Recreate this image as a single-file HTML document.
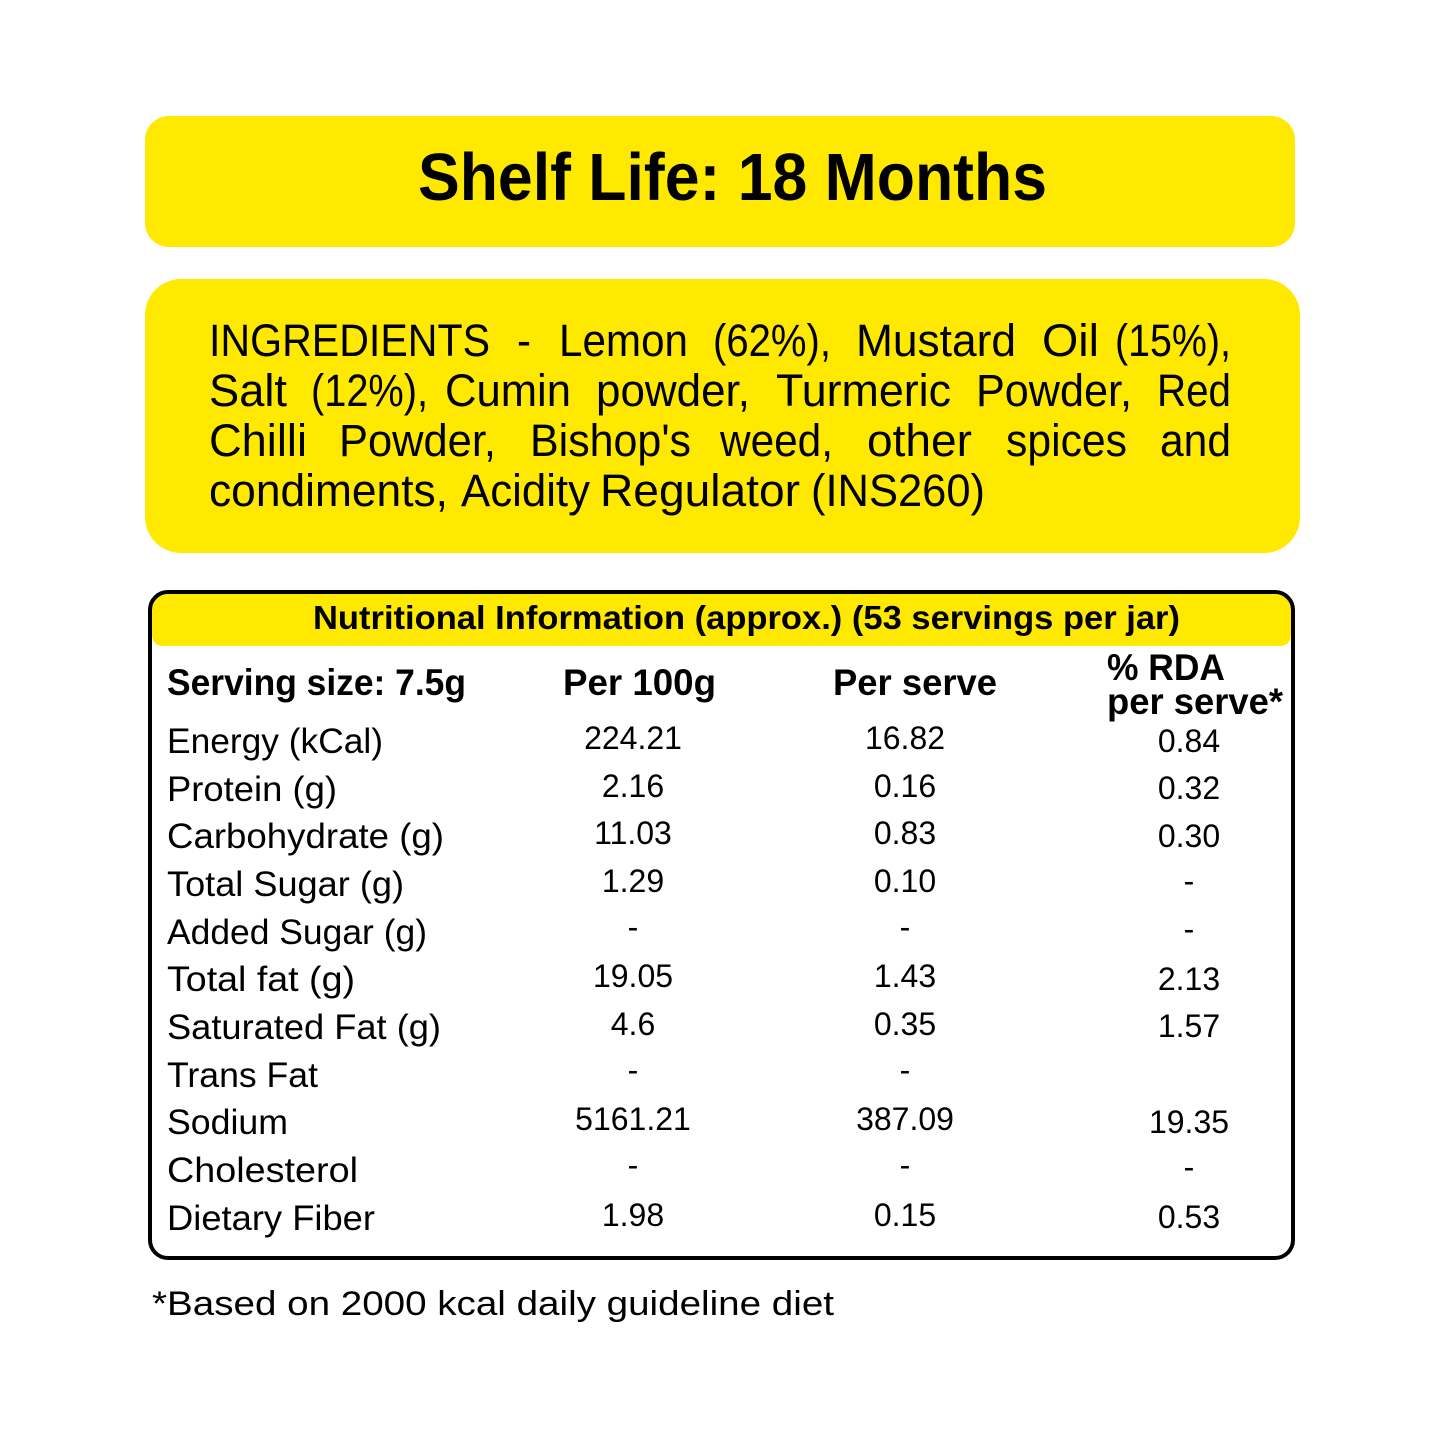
<!DOCTYPE html>
<html>
<head>
<meta charset="utf-8">
<style>
html,body{margin:0;padding:0;background:#fff;}
svg{display:block;}
text{font-family:"Liberation Sans",sans-serif;fill:#000;}
.b{font-weight:700;}
</style>
</head>
<body>
<svg width="1445" height="1445" viewBox="0 0 1445 1445" xmlns="http://www.w3.org/2000/svg">
<rect x="0" y="0" width="1445" height="1445" fill="#fff"/>
<!-- Shelf life box -->
<rect x="145" y="116" width="1150" height="131" rx="24" ry="24" fill="#FFE900"/>
<text class="b" x="418" y="200" font-size="67" textLength="629" lengthAdjust="spacingAndGlyphs">Shelf Life: 18 Months</text>

<!-- Ingredients box -->
<rect x="145" y="279" width="1155" height="274" rx="36" ry="36" fill="#FFE900"/>
<g font-size="45">
<text x="209" y="356" textLength="281" lengthAdjust="spacingAndGlyphs">INGREDIENTS</text>
<text x="517" y="356" textLength="14" lengthAdjust="spacingAndGlyphs">-</text>
<text x="559" y="356" textLength="129" lengthAdjust="spacingAndGlyphs">Lemon</text>
<text x="713" y="356" textLength="118" lengthAdjust="spacingAndGlyphs">(62%),</text>
<text x="856" y="356" textLength="160" lengthAdjust="spacingAndGlyphs">Mustard</text>
<text x="1042" y="356" textLength="57" lengthAdjust="spacingAndGlyphs">Oil</text>
<text x="1115" y="356" textLength="116" lengthAdjust="spacingAndGlyphs">(15%),</text>

<text x="209" y="406" textLength="78" lengthAdjust="spacingAndGlyphs">Salt</text>
<text x="311" y="406" textLength="117" lengthAdjust="spacingAndGlyphs">(12%),</text>
<text x="445" y="406" textLength="126" lengthAdjust="spacingAndGlyphs">Cumin</text>
<text x="596" y="406" textLength="154" lengthAdjust="spacingAndGlyphs">powder,</text>
<text x="776" y="406" textLength="175" lengthAdjust="spacingAndGlyphs">Turmeric</text>
<text x="976" y="406" textLength="156" lengthAdjust="spacingAndGlyphs">Powder,</text>
<text x="1157" y="406" textLength="74" lengthAdjust="spacingAndGlyphs">Red</text>

<text x="209" y="456" textLength="98" lengthAdjust="spacingAndGlyphs">Chilli</text>
<text x="339" y="456" textLength="157" lengthAdjust="spacingAndGlyphs">Powder,</text>
<text x="530" y="456" textLength="161" lengthAdjust="spacingAndGlyphs">Bishop's</text>
<text x="720" y="456" textLength="113" lengthAdjust="spacingAndGlyphs">weed,</text>
<text x="867" y="456" textLength="105" lengthAdjust="spacingAndGlyphs">other</text>
<text x="1006" y="456" textLength="121" lengthAdjust="spacingAndGlyphs">spices</text>
<text x="1160" y="456" textLength="71" lengthAdjust="spacingAndGlyphs">and</text>

<text x="209" y="506" textLength="239" lengthAdjust="spacingAndGlyphs">condiments,</text>
<text x="461" y="506" textLength="129" lengthAdjust="spacingAndGlyphs">Acidity</text>
<text x="600" y="506" textLength="200" lengthAdjust="spacingAndGlyphs">Regulator</text>
<text x="811" y="506" textLength="174" lengthAdjust="spacingAndGlyphs">(INS260)</text>
</g>

<!-- Nutrition table -->
<path d="M152,612 Q152,594 170,594 L1273,594 Q1291,594 1291,612 L1291,634 Q1291,646 1279,646 L164,646 Q152,646 152,634 Z" fill="#FFE900"/>
<rect x="150" y="592" width="1143" height="666" rx="18" ry="18" fill="none" stroke="#000" stroke-width="4"/>
<text class="b" x="313" y="629" font-size="33" textLength="867" lengthAdjust="spacingAndGlyphs">Nutritional Information (approx.) (53 servings per jar)</text>

<g class="b" font-size="37">
<text class="b" x="167" y="695" textLength="299" lengthAdjust="spacingAndGlyphs">Serving size: 7.5g</text>
<text class="b" x="563" y="695" textLength="153" lengthAdjust="spacingAndGlyphs">Per 100g</text>
<text class="b" x="833" y="695" textLength="164" lengthAdjust="spacingAndGlyphs">Per serve</text>
<text class="b" x="1107" y="680" textLength="118" lengthAdjust="spacingAndGlyphs">% RDA</text>
<text class="b" x="1107" y="714" textLength="176" lengthAdjust="spacingAndGlyphs">per serve*</text>
</g>

<g font-size="35">
<text x="167" y="753" textLength="216" lengthAdjust="spacingAndGlyphs">Energy (kCal)</text>
<text x="167" y="801" textLength="170" lengthAdjust="spacingAndGlyphs">Protein (g)</text>
<text x="167" y="848" textLength="277" lengthAdjust="spacingAndGlyphs">Carbohydrate (g)</text>
<text x="167" y="896" textLength="237" lengthAdjust="spacingAndGlyphs">Total Sugar (g)</text>
<text x="167" y="944" textLength="260" lengthAdjust="spacingAndGlyphs">Added Sugar (g)</text>
<text x="167" y="991" textLength="188" lengthAdjust="spacingAndGlyphs">Total fat (g)</text>
<text x="167" y="1039" textLength="274" lengthAdjust="spacingAndGlyphs">Saturated Fat (g)</text>
<text x="167" y="1087" textLength="151" lengthAdjust="spacingAndGlyphs">Trans Fat</text>
<text x="167" y="1134" textLength="121" lengthAdjust="spacingAndGlyphs">Sodium</text>
<text x="167" y="1182" textLength="191" lengthAdjust="spacingAndGlyphs">Cholesterol</text>
<text x="167" y="1230" textLength="208" lengthAdjust="spacingAndGlyphs">Dietary Fiber</text>
</g>

<g font-size="32" text-anchor="middle">
<text x="633" y="749">224.21</text>
<text x="633" y="797">2.16</text>
<text x="633" y="844">11.03</text>
<text x="633" y="892">1.29</text>
<text x="633" y="938">-</text>
<text x="633" y="987">19.05</text>
<text x="633" y="1035">4.6</text>
<text x="633" y="1081">-</text>
<text x="633" y="1130">5161.21</text>
<text x="633" y="1176">-</text>
<text x="633" y="1226">1.98</text>

<text x="905" y="749">16.82</text>
<text x="905" y="797">0.16</text>
<text x="905" y="844">0.83</text>
<text x="905" y="892">0.10</text>
<text x="905" y="938">-</text>
<text x="905" y="987">1.43</text>
<text x="905" y="1035">0.35</text>
<text x="905" y="1081">-</text>
<text x="905" y="1130">387.09</text>
<text x="905" y="1176">-</text>
<text x="905" y="1226">0.15</text>

<text x="1189" y="752">0.84</text>
<text x="1189" y="799">0.32</text>
<text x="1189" y="847">0.30</text>
<text x="1189" y="892">-</text>
<text x="1189" y="940">-</text>
<text x="1189" y="990">2.13</text>
<text x="1189" y="1037">1.57</text>
<text x="1189" y="1133">19.35</text>
<text x="1189" y="1178">-</text>
<text x="1189" y="1228">0.53</text>
</g>

<text x="152" y="1315" font-size="34" textLength="682" lengthAdjust="spacingAndGlyphs">*Based on 2000 kcal daily guideline diet</text>
</svg>
</body>
</html>
